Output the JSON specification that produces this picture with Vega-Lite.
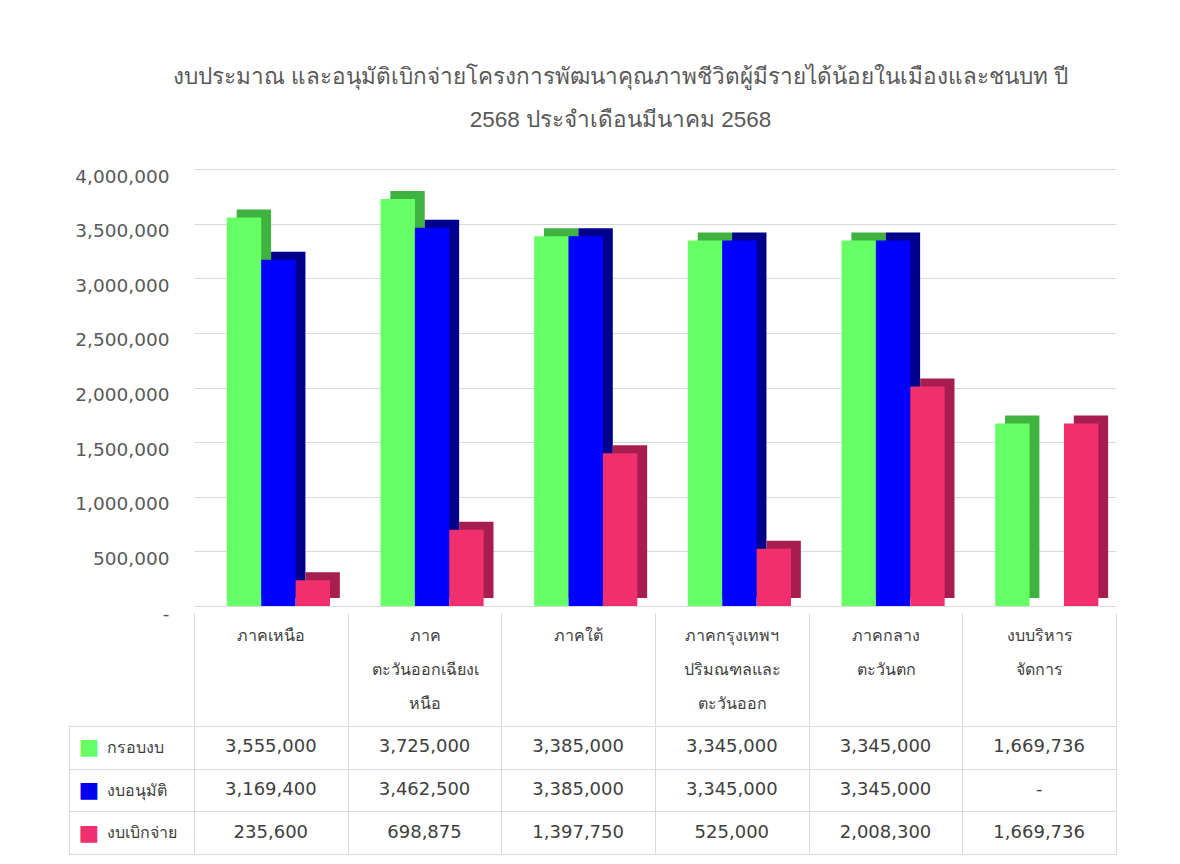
{
  "$schema": "https://vega.github.io/schema/vega-lite/v6.json",
  "background": "white",
  "padding": {"left": 68, "top": 65, "right": 20, "bottom": 5},
  "config": {
    "font": "DejaVu Sans",
    "view": {"stroke": null}
  },
  "title": {
    "text": ["งบประมาณ และอนุมัติเบิกจ่ายโครงการพัฒนาคุณภาพชีวิตผู้มีรายได้น้อยในเมืองและชนบท ปี", "2568 ประจำเดือนมีนาคม 2568"],
    "font": "Liberation Sans",
    "fontSize": 22.5,
    "fontWeight": "normal",
    "color": "#595959",
    "lineHeight": 43,
    "anchor": "middle",
    "dx": 28,
    "offset": 36
  },
  "datasets": {
    "budget": [
      {"region": "ภาคเหนือ", "series": "กรอบงบ", "value": 3555000},
      {"region": "ภาคเหนือ", "series": "งบอนุมัติ", "value": 3169400},
      {"region": "ภาคเหนือ", "series": "งบเบิกจ่าย", "value": 235600},
      {"region": "ภาค|ตะวันออกเฉียงเ|หนือ", "series": "กรอบงบ", "value": 3725000},
      {"region": "ภาค|ตะวันออกเฉียงเ|หนือ", "series": "งบอนุมัติ", "value": 3462500},
      {"region": "ภาค|ตะวันออกเฉียงเ|หนือ", "series": "งบเบิกจ่าย", "value": 698875},
      {"region": "ภาคใต้", "series": "กรอบงบ", "value": 3385000},
      {"region": "ภาคใต้", "series": "งบอนุมัติ", "value": 3385000},
      {"region": "ภาคใต้", "series": "งบเบิกจ่าย", "value": 1397750},
      {"region": "ภาคกรุงเทพฯ|ปริมณฑลและ|ตะวันออก", "series": "กรอบงบ", "value": 3345000},
      {"region": "ภาคกรุงเทพฯ|ปริมณฑลและ|ตะวันออก", "series": "งบอนุมัติ", "value": 3345000},
      {"region": "ภาคกรุงเทพฯ|ปริมณฑลและ|ตะวันออก", "series": "งบเบิกจ่าย", "value": 525000},
      {"region": "ภาคกลาง|ตะวันตก", "series": "กรอบงบ", "value": 3345000},
      {"region": "ภาคกลาง|ตะวันตก", "series": "งบอนุมัติ", "value": 3345000},
      {"region": "ภาคกลาง|ตะวันตก", "series": "งบเบิกจ่าย", "value": 2008300},
      {"region": "งบบริหาร|จัดการ", "series": "กรอบงบ", "value": 1669736},
      {"region": "งบบริหาร|จัดการ", "series": "งบอนุมัติ", "value": 0},
      {"region": "งบบริหาร|จัดการ", "series": "งบเบิกจ่าย", "value": 1669736}
    ]
  },
  "spacing": -10,
  "vconcat": [
    {
      "width": 922,
      "height": 437,
      "data": {"name": "budget"},
      "encoding": {
        "x": {
          "field": "region", "type": "nominal", "sort": null,
          "scale": {"paddingInner": 0, "paddingOuter": 0},
          "axis": {
            "orient": "bottom", "title": null, "offset": 7,
            "domain": false,
            "ticks": true, "tickBand": "extent", "tickSize": 112, "tickColor": "#d9d9d9",
            "labelExpr": "split(datum.label, '|')",
            "labelAngle": 0,
            "labelBaseline": "top", "labelLineHeight": 34, "labelPadding": -98,
            "labelFontSize": 16, "labelColor": "#404040", "labelOverlap": false, "labelBound": false,
            "labelLimit": 300,
            "minExtent": 102, "maxExtent": 102
          }
        },
        "y": {
          "field": "value", "type": "quantitative",
          "scale": {"domain": [0, 4000000], "nice": false},
          "axis": {
            "title": null, "domain": false, "ticks": false,
            "values": [0, 500000, 1000000, 1500000, 2000000, 2500000, 3000000, 3500000, 4000000],
            "labelExpr": "datum.value == 0 ? '-' : format(datum.value, ',')",
            "grid": true, "gridColor": "#d9d9d9",
            "labelPadding": 25, "labelOffset": 7,
            "labelFontSize": 18.5, "labelColor": "#595959",
            "minExtent": 125, "maxExtent": 125
          }
        }
      },
      "layer": [
        {
          "mark": {"type": "bar", "yOffset": -8, "y2Offset": -8},
          "encoding": {
            "xOffset": {
              "field": "series", "type": "nominal",
              "sort": ["กรอบงบ", "งบอนุมัติ", "งบเบิกจ่าย"],
              "scale": {"paddingInner": 0, "paddingOuter": 0.735, "align": 0.845}
            },
            "fill": {
              "field": "series", "type": "nominal",
              "scale": {"domain": ["กรอบงบ", "งบอนุมัติ", "งบเบิกจ่าย"], "range": ["#3fb23f", "#00008c", "#a81d4f"]},
              "legend": null
            }
          }
        },
        {
          "mark": {"type": "bar"},
          "encoding": {
            "xOffset": {
              "field": "series", "type": "nominal",
              "sort": ["กรอบงบ", "งบอนุมัติ", "งบเบิกจ่าย"],
              "scale": {"paddingInner": 0, "paddingOuter": 0.735, "align": 0.65}
            },
            "color": {
              "field": "series", "type": "nominal",
              "scale": {"domain": ["กรอบงบ", "งบอนุมัติ", "งบเบิกจ่าย"], "range": ["#66ff66", "#0000ff", "#f0306e"]},
              "legend": null
            }
          }
        }
      ],
      "resolve": {"scale": {"xOffset": "independent"}}
    },
    {
      "width": 922,
      "height": 128,
      "data": {"name": "budget"},
      "transform": [
        {"calculate": "datum.value == 0 ? '-' : format(datum.value, ',')", "as": "shown"}
      ],
      "encoding": {
        "y": {
          "field": "series", "type": "nominal",
          "sort": ["กรอบงบ", "งบอนุมัติ", "งบเบิกจ่าย"],
          "scale": {"paddingInner": 0, "paddingOuter": 0}
        }
      },
      "layer": [
        {
          "mark": {"type": "text", "fontSize": 18, "color": "#404040"},
          "encoding": {
            "x": {
              "field": "region", "type": "nominal", "sort": null,
              "scale": {"paddingInner": 0, "paddingOuter": 0},
              "axis": {
                "title": null, "labels": false, "ticks": false, "domain": false,
                "grid": true, "tickBand": "extent", "gridColor": "#d9d9d9"
              }
            },
            "y": {
              "field": "series", "type": "nominal",
              "sort": ["กรอบงบ", "งบอนุมัติ", "งบเบิกจ่าย"],
              "axis": {
                "orient": "left", "title": null, "domain": false,
                "ticks": true, "tickBand": "extent", "tickSize": 125, "tickColor": "#d9d9d9",
                "grid": true, "gridColor": "#d9d9d9",
                "labelAlign": "left", "labelPadding": -37,
                "labelFontSize": 16, "labelColor": "#404040",
                "minExtent": 125, "maxExtent": 125
              }
            },
            "text": {"field": "shown"}
          }
        },
        {
          "mark": {"type": "text", "opacity": 0},
          "encoding": {
            "y": {
              "field": "series", "type": "nominal",
              "sort": ["กรอบงบ", "งบอนุมัติ", "งบเบิกจ่าย"],
              "axis": {
                "orient": "left", "title": null, "offset": 125,
                "domain": true, "domainColor": "#d9d9d9",
                "ticks": false, "grid": false,
                "labelExpr": "'■'",
                "labelColor": {
                  "condition": [
                    {"test": "datum.value === 'กรอบงบ'", "value": "#66ff66"},
                    {"test": "datum.value === 'งบอนุมัติ'", "value": "#0000ee"}
                  ],
                  "value": "#ee3070"
                },
                "labelFontSize": 22, "labelAlign": "left", "labelPadding": -9,
                "minExtent": 0, "maxExtent": 0
              }
            },
            "text": {"field": "shown"}
          }
        }
      ],
      "resolve": {"axis": {"y": "independent"}}
    }
  ]
}
